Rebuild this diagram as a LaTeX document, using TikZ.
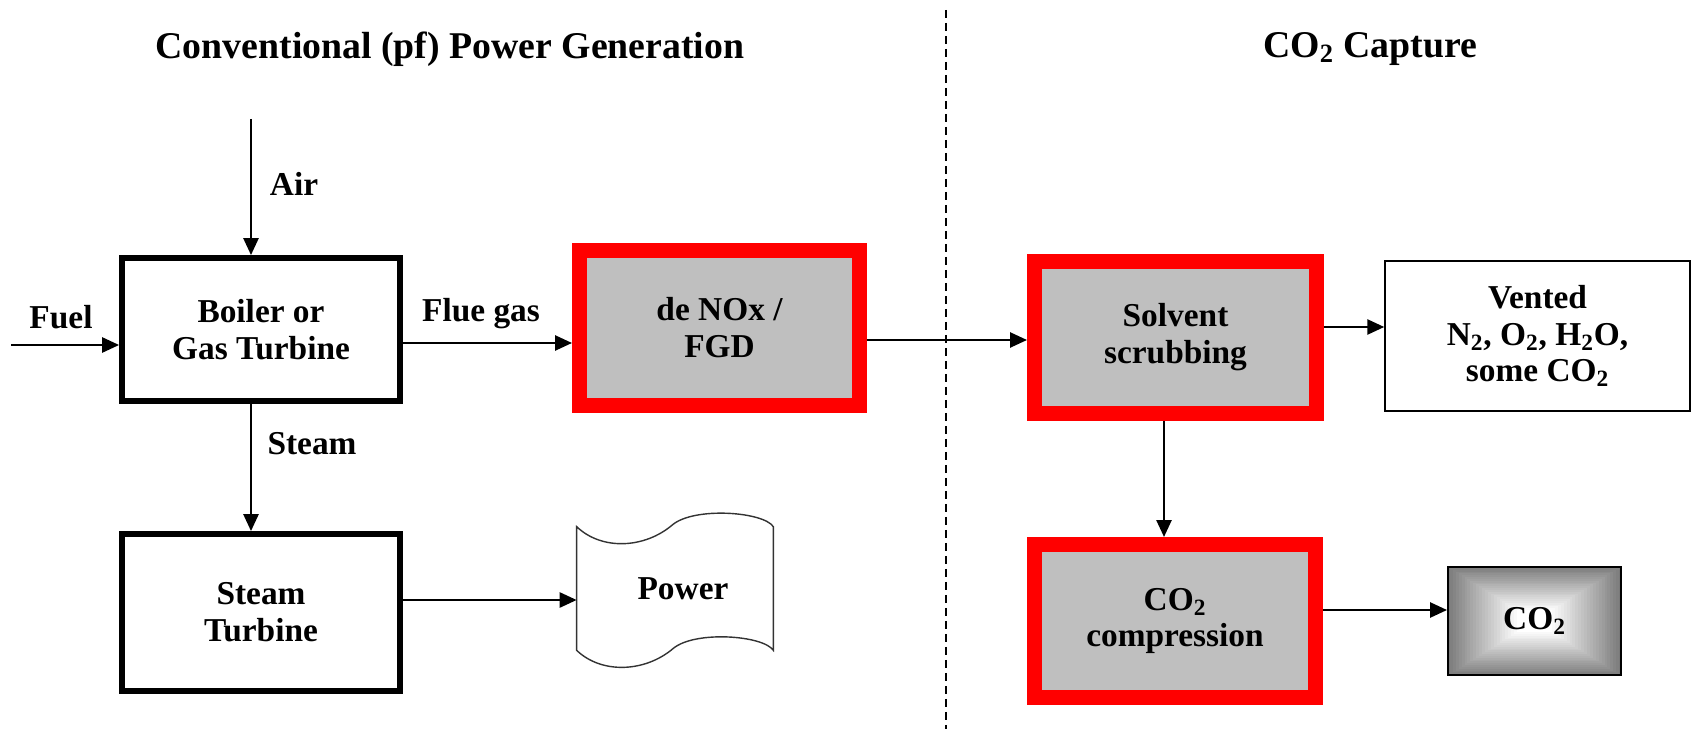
\documentclass[tikz,border=0pt]{standalone}
\usepackage{fontspec}
\setmainfont{Liberation Serif}
\usetikzlibrary{arrows.meta}
\newcommand{\ctwo}{CO\textsubscript{2}}

\begin{document}
\begin{tikzpicture}[
			x=0.02cm, y=-0.02cm,
			every node/.style={font=\fontsize{19}{21}\selectfont\bfseries, align=center},
			heading/.style={font=\fontsize{21.5}{24}\selectfont\bfseries},
			plant/.style={rectangle, draw, line width=3.6pt, minimum width=5.55cm, minimum height=2.85cm, fill=white},
			capture/.style={rectangle, draw=red, line width=0.3cm, minimum width=5.62cm, minimum height=3.06cm, fill=black!25},
			outlet/.style={rectangle, draw, line width=0.85pt, minimum width=6.1cm, minimum height=3cm},
			arrow/.style={line width=1.45pt, -{Triangle[length=0.34cm, width=0.3cm]}},
			divider/.style={line width=0.9pt, dash pattern=on 0.16cm off 0.1cm}
		]
		\useasboundingbox (0,0) rectangle (1700,729);

		% Titoli e separatore
		\node[heading] (ttlpower) at (450,49) {Conventional (pf) Power Generation};
		\node[heading] (ttlcapture) at (1370,49) {\ctwo{} Capture};
		\draw[divider] (946,10) -- (946,729);

		% Centrale convenzionale
		\node[plant] (boiler) at (261,329.5) {Boiler or\\Gas Turbine};
		\node[plant, minimum height=3.13cm] (turbine) at (261,612.5) {Steam\\Turbine};
		\node[capture, minimum width=5.6cm, minimum height=3.1cm] (denox) at (719.5,328) {de NOx /\\FGD};
		\node[minimum width=3.92cm, minimum height=2.46cm] (power) at (675,588.5) {\hspace*{0.32cm}Power};
		\draw[line width=0.8pt, black!80] (power.north west)
			.. controls +(25,24) and +(-28,24) .. +(96,-2)
			.. controls +(22,-18) and +(-10,-15) .. (power.north east)
			-- (power.south east)
			.. controls +(-10,-15) and +(22,-18) .. +(-100,-2)
			.. controls +(-28,24) and +(25,24) .. (power.south west) -- cycle;

		% Cattura CO2
		\node[capture, minimum width=5.64cm, minimum height=3.04cm] (solvent) at (1175.5,337.5) {Solvent\\scrubbing};
		\node[capture] (compress) at (1175,621) {\ctwo\\compression};
		\node[outlet] (vented) at (1537.5,336) {Vented\\N\textsubscript{2}, O\textsubscript{2}, H\textsubscript{2}O,\\some \ctwo};
		\foreach \i [evaluate=\i as \tone using 52-52*\i/24, evaluate=\i as \sc using 1-0.8*\i/24] in {0,...,24}
			\fill[black!\tone] (1534.5-87.5*\sc,621-55*\sc) rectangle (1534.5+87.5*\sc,621+55*\sc);
		\node[draw, line width=1.1pt, minimum width=3.46cm, minimum height=2.16cm] (product) at (1534.5,621) {\ctwo};

		% Etichette dei flussi
		\node (airlbl) at (294,184) {Air};
		\node (fuellbl) at (61,317) {Fuel};
		\node (fluelbl) at (481,314) {Flue gas};
		\node (steamlbl) at (312,444) {Steam};

		% Frecce
		\coordinate (air) at (251,119);
		\coordinate (fuel) at (11,345);
		\draw[arrow] (air) -- (air |- boiler.north);
		\draw[arrow] (fuel) -- (fuel -| boiler.west);
		\draw[arrow] ([yshift=-0.27cm]boiler.east) coordinate (flueout) -- (flueout -| denox.west);
		\draw[arrow] ([xshift=-0.2cm]boiler.south) coordinate (steamout) -- (steamout |- turbine.north);
		\draw[arrow] ([yshift=0.25cm]turbine.east) coordinate (powerin) -- (powerin -| power.west);
		\draw[arrow] ([yshift=-0.24cm]denox.east) coordinate (gasout) -- (gasout -| solvent.west);
		\draw[arrow] ([yshift=0.21cm]solvent.east) coordinate (ventout) -- (ventout -| vented.west);
		\draw[arrow] ([xshift=-0.23cm]solvent.south) coordinate (richout) -- (richout |- compress.north);
		\draw[arrow] ([yshift=0.22cm]compress.east) coordinate (co2out) -- (co2out -| product.west);

	\end{tikzpicture}
\end{document}
